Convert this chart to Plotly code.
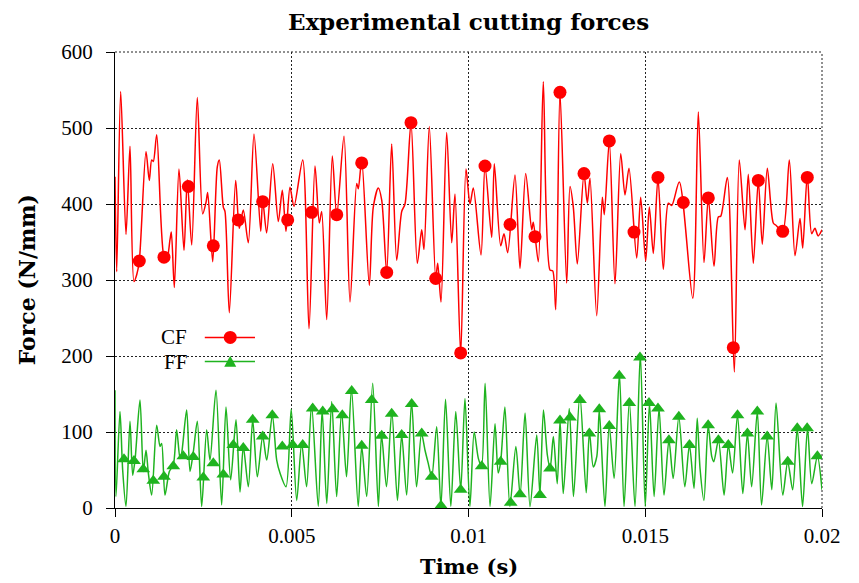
import plotly.graph_objects as go

# ---------------- data (time in ms, force in N/mm) ----------------
cf_time_ms = [0, 0.048, 0.161, 0.311, 0.424, 0.537, 0.614, 0.687, 0.877, 0.970, 1.038, 1.084, 1.180,
              1.386, 1.462, 1.556, 1.594, 1.678, 1.810, 1.952, 2.045, 2.170, 2.328, 2.481, 2.574, 2.622,
              2.764, 2.894, 2.951, 3.064, 3.112, 3.233, 3.414, 3.516, 3.629, 3.771, 3.932, 4.122, 4.178,
              4.290, 4.462, 4.620, 4.733, 4.837, 4.950, 5.064, 5.310, 5.488, 5.658, 5.780, 5.847, 5.989,
              6.147, 6.272, 6.478, 6.648, 6.837, 6.883, 6.979, 7.194, 7.307, 7.449, 7.545, 7.686, 7.827,
              7.969, 8.110, 8.204, 8.373, 8.552, 8.676, 8.741, 8.891, 9.072, 9.129, 9.222, 9.383, 9.525,
              9.618, 9.779, 9.929, 10.042, 10.136, 10.354, 10.467, 10.656, 10.730, 10.911, 11.004, 11.109,
              11.315, 11.457, 11.618, 11.788, 11.833, 11.975, 12.116, 12.306, 12.382, 12.467, 12.588,
              12.778, 12.871, 12.965, 13.078, 13.267, 13.361, 13.437, 13.627, 13.785, 13.842, 13.983,
              14.144, 14.306, 14.427, 14.540, 14.758, 14.871, 15.012, 15.115, 15.228, 15.360, 15.511,
              15.652, 15.748, 15.963, 16.343, 16.501, 16.662, 16.784, 16.945, 17.067, 17.135, 17.322,
              17.519, 17.660, 17.822, 17.915, 18.057, 18.198, 18.311, 18.453, 18.622, 18.699, 18.888,
              19.075, 19.236, 19.378, 19.454, 19.584, 19.709, 19.800, 19.890, 20.0]
cf_force = [436, 311, 548, 360, 476, 298, 307, 325, 469, 431, 458, 456, 491,
            330, 326, 353, 363, 290, 446, 339, 432, 346, 540, 387, 402, 415,
            324, 449, 458, 396, 390, 257, 431, 368, 392, 349, 492, 364, 405,
            362, 453, 377, 418, 364, 422, 397, 458, 236, 450, 375, 390, 248,
            463, 385, 489, 271, 427, 420, 458, 293, 396, 421, 405, 310, 479,
            326, 390, 400, 507, 322, 366, 340, 502, 302, 322, 271, 494, 349,
            413, 202, 446, 400, 421, 333, 450, 356, 453, 345, 361, 336,
            438, 315, 440, 366, 376, 324, 561, 313, 312, 261, 547,
            296, 423, 396, 321, 440, 401, 434, 253, 409, 386, 483,
            295, 466, 412, 447, 329, 409, 325, 396, 335, 435, 314,
            401, 398, 429, 276, 521, 323, 408, 318, 383, 384, 435,
            179, 458, 366, 439, 322, 431, 347, 447, 375, 372, 364,
            458, 332, 381, 342, 438, 361, 368, 358, 366]

cf_mark_time_ms = [0.687, 1.386, 2.074, 2.781, 3.488, 4.178, 4.885, 5.564, 6.272, 6.979, 7.686, 8.373,
                   9.072, 9.779, 10.467, 11.174, 11.881, 12.588, 13.267, 13.983, 14.682, 15.360,
                   16.076, 16.784, 17.491, 18.198, 18.888, 19.584]
cf_mark_force = [325, 330, 423, 345, 379, 403, 379, 389, 386, 454, 310, 507,
                 302, 204, 450, 373, 357, 547, 440, 483, 363, 435,
                 402, 408, 211, 431, 364, 435]

ff_time_ms = [0, 0.028, 0.141, 0.217, 0.311, 0.424, 0.500, 0.566, 0.707, 0.801, 0.877, 0.943, 1.037,
              1.179, 1.273, 1.320, 1.414, 1.537, 1.650, 1.744, 1.839, 1.886, 2.027, 2.122, 2.216, 2.329,
              2.452, 2.593, 2.687, 2.857, 3.017, 3.140, 3.272, 3.423, 3.536, 3.630, 3.772, 3.895, 4.026,
              4.178, 4.291, 4.451, 4.574, 4.668, 4.838, 4.985, 5.14, 5.28, 5.42, 5.56, 5.75, 5.86, 5.99,
              6.13, 6.27, 6.41, 6.55, 6.69, 6.88, 6.98, 7.12, 7.29, 7.45, 7.54, 7.68, 7.83, 7.99, 8.11,
              8.25, 8.39, 8.53, 8.67, 8.77, 8.86, 8.96, 9.10, 9.22, 9.35, 9.50, 9.64, 9.78, 9.90, 10.04,
              10.16, 10.28, 10.37, 10.47, 10.61, 10.75, 10.84, 10.91, 11.03, 11.17, 11.34, 11.46, 11.60,
              11.74, 11.93, 12.02, 12.12, 12.23, 12.31, 12.40, 12.51, 12.59, 12.68, 12.85, 12.97, 13.15,
              13.33, 13.42, 13.53, 13.63, 13.70, 13.86, 13.98, 14.12, 14.27, 14.40, 14.55, 14.71, 14.86,
              15.00, 15.12, 15.25, 15.39, 15.53, 15.67, 15.79, 15.95, 16.12, 16.25, 16.38, 16.47, 16.55,
              16.66, 16.78, 16.88, 16.94, 17.07, 17.23, 17.35, 17.47, 17.61, 17.76, 17.89, 18.01, 18.17,
              18.29, 18.45, 18.58, 18.70, 18.89, 19.03, 19.17, 19.30, 19.45, 19.59, 19.71, 19.87, 20.0]
ff_force = [155, 15, 127, 50, 2, 114, 43, 63, 142, 48, 76, 46, 17,
            109, 81, 85, 17, 48, 57, 103, 65, 72, 129, 48, 74, 114,
            2, 103, 63, 155, 4, 133, 37, 116, 21, 81, 28, 116, 41,
            94, 63, 122, 63, 46, 28, 130, 10, 85, 28, 136, 2, 129, 6,
            140, 15, 127, 41, 157, 2, 81, 15, 164, 2, 96, 28, 127, 10, 96,
            17, 140, 28, 98, 76, 59, 41, 107, 2, 143, 2, 127, 24, 144, 2,
            100, 65, 55, 164, 2, 111, 46, 61, 133, 2, 81, 17, 125,
            2, 96, 17, 129, 70, 52, 94, 32, 115, 19, 131, 15, 149,
            20, 100, 54, 68, 129, 2, 109, 39, 177, 2, 140, 2, 203,
            2, 138, 15, 131, 17, 89, 39, 120, 28, 83, 26, 118, 52,
            10, 109, 68, 61, 89, 17, 83, 46, 122, 19, 98, 28, 127,
            4, 94, 24, 138, 17, 61, 24, 105, 2, 105, 32, 68, 24]

ff_mark_time_ms = [0.255, 0.537, 0.800, 1.083, 1.386, 1.649, 1.932, 2.215, 2.498, 2.781, 3.064, 3.346,
                   3.629, 3.895, 4.178, 4.450, 4.733, 5.027, 5.310, 5.593, 5.876, 6.158, 6.430, 6.696,
                   6.979, 7.262, 7.545, 7.827, 8.110, 8.393, 8.676, 8.959, 9.222, 9.779, 10.373, 10.911,
                   11.194, 11.457, 12.023, 12.306, 12.588, 12.871, 13.154, 13.418, 13.700, 13.983, 14.266,
                   14.549, 14.851, 15.106, 15.360, 15.670, 15.950, 16.250, 16.780, 17.070, 17.350, 17.610,
                   17.890, 18.170, 18.450, 19.030, 19.300, 19.580, 19.870]
ff_mark_force = [64, 62, 51, 36, 41, 55, 68, 67, 40, 59, 44, 83,
                 79, 116, 94, 122, 81, 83, 83, 131, 127, 130, 122, 154,
                 82, 142, 95, 124, 96, 137, 98, 41, 3, 24, 55, 61,
                 7, 18, 17, 52, 115, 119, 142, 98, 130, 108, 174,
                 138, 198, 138, 131, 89, 120, 83, 109, 89, 83, 122,
                 98, 127, 94, 61, 105, 105, 68]

x_tick_vals = [0, 0.005, 0.01, 0.015, 0.02]
x_tick_text = ["0", "0.005", "0.01", "0.015", "0.02"]
y_tick_vals = [0, 100, 200, 300, 400, 500, 600]
legend_names = ["CF", "FF"]

# convert ms -> s
cf_time = [t / 1000 for t in cf_time_ms]
cf_mark_time = [t / 1000 for t in cf_mark_time_ms]
ff_time = [t / 1000 for t in ff_time_ms]
ff_mark_time = [t / 1000 for t in ff_mark_time_ms]

RED = "#ff0000"
GREEN = "#1fb31f"
SERIF = "Liberation Serif"
BOLD = "DejaVu Serif"
GRID = "#222222"
DOT = "2px,2px"

fig = go.Figure()
fig.add_trace(go.Scatter(x=ff_time, y=ff_force, mode="lines",
                         line=dict(color=GREEN, width=1.5, shape="spline", smoothing=0.8),
                         showlegend=False, hoverinfo="skip"))
fig.add_trace(go.Scatter(x=ff_mark_time, y=ff_mark_force, mode="markers",
                         marker=dict(symbol="triangle-up", size=12, color=GREEN, line=dict(width=0)),
                         showlegend=False))
fig.add_trace(go.Scatter(x=cf_time, y=cf_force, mode="lines",
                         line=dict(color=RED, width=1.5, shape="spline", smoothing=0.8),
                         showlegend=False, hoverinfo="skip"))
fig.add_trace(go.Scatter(x=cf_mark_time, y=cf_mark_force, mode="markers",
                         marker=dict(symbol="circle", size=13, color=RED, line=dict(width=0)),
                         showlegend=False))

axis_common = dict(showline=True, linecolor="black", linewidth=1, mirror=False,
                   ticks="outside", ticklen=8, tickcolor="black", tickwidth=1,
                   showgrid=True, gridcolor=GRID, gridwidth=1, griddash=DOT,
                   zeroline=False, tickfont=dict(family=SERIF, size=21, color="black"))

fig.update_xaxes(range=[0, 0.02], tickvals=x_tick_vals, ticktext=x_tick_text,
                 ticklabelstandoff=1, **axis_common)
fig.update_yaxes(range=[0, 600], tickvals=y_tick_vals, ticklabelstandoff=9, **axis_common)

# manual legend (label left of the sample, gnuplot style)
cf_y, ff_y = 0.374, 0.321
shapes = [
    dict(type="rect", xref="paper", yref="paper", x0=0.062, x1=0.218, y0=0.298, y1=0.400,
         fillcolor="white", line=dict(width=0), layer="between"),
    # dotted top / right border (gnuplot grid at the range ends)
    dict(type="line", xref="paper", yref="paper", x0=0, x1=1, y0=1, y1=1,
         line=dict(color=GRID, width=1, dash=DOT), layer="between"),
    dict(type="line", xref="paper", yref="paper", x0=1, x1=1, y0=0, y1=1,
         line=dict(color=GRID, width=1, dash=DOT), layer="between"),
    dict(type="line", xref="paper", yref="paper", x0=0.127, x1=0.198, y0=cf_y, y1=cf_y,
         line=dict(color=RED, width=1.5)),
    dict(type="circle", xref="paper", yref="paper", x0=0.163 - 0.0092, x1=0.163 + 0.0092,
         y0=cf_y - 0.0143, y1=cf_y + 0.0143, fillcolor=RED, line=dict(width=0)),
    dict(type="line", xref="paper", yref="paper", x0=0.127, x1=0.198, y0=ff_y, y1=ff_y,
         line=dict(color=GREEN, width=1.5)),
    dict(type="path", xref="paper", yref="paper",
         path=f"M 0.1545,{ff_y - 0.011} L 0.1715,{ff_y - 0.011} L 0.163,{ff_y + 0.013} Z",
         fillcolor=GREEN, line=dict(width=0)),
]
annotations = [
    dict(text=legend_names[0], xref="paper", yref="paper", x=0.104, y=cf_y, xanchor="right",
         yanchor="middle", showarrow=False, font=dict(family=SERIF, size=21, color="black")),
    dict(text=legend_names[1], xref="paper", yref="paper", x=0.104, y=ff_y, xanchor="right",
         yanchor="middle", showarrow=False, font=dict(family=SERIF, size=21, color="black")),
    dict(text="<b>Force (N/mm)</b>", xref="paper", yref="paper", x=-0.124, y=0.50,
         xanchor="center", yanchor="middle", textangle=-90, showarrow=False,
         font=dict(family=BOLD, size=22, color="black")),
    dict(text="<b>Time (s)</b>", xref="paper", yref="paper", x=0.5, y=-0.128,
         xanchor="center", yanchor="middle", showarrow=False,
         font=dict(family=BOLD, size=21, color="black")),
]

# the page adds an 8px body margin, so the figure is 8px smaller than the window
fig.update_layout(
    width=851, height=575,
    margin=dict(l=107, r=37, t=44, b=75),
    paper_bgcolor="white", plot_bgcolor="white",
    title=dict(text="<b>Experimental cutting forces</b>", x=460.5 / 851, xanchor="center",
               y=1 - 14 / 575, yanchor="middle", font=dict(family=BOLD, size=23, color="black")),
    shapes=shapes, annotations=annotations, showlegend=False,
)

fig.write_html("out.html")
